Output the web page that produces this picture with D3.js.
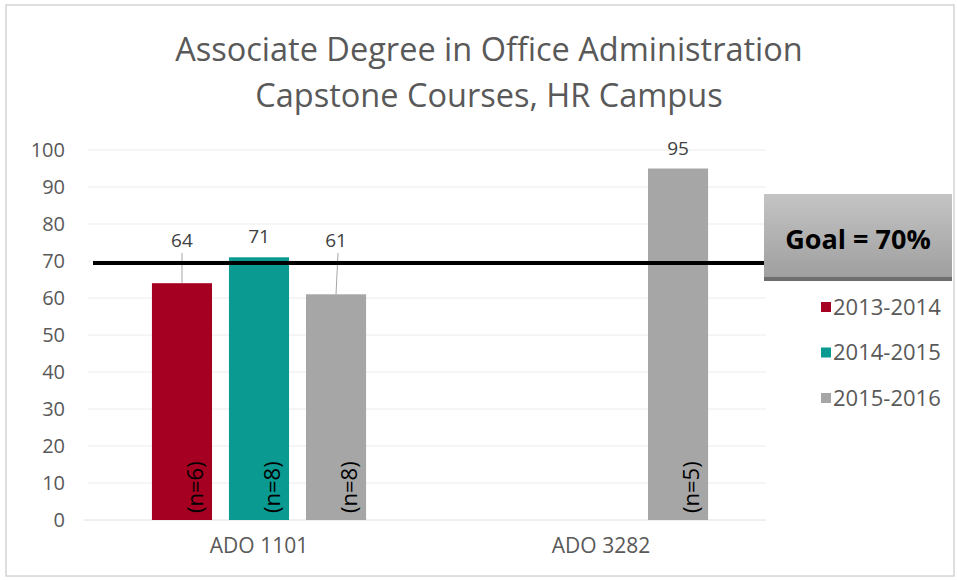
<!DOCTYPE html>
<html>
<head>
<meta charset="utf-8">
<script src="https://cdn.jsdelivr.net/npm/d3@7"></script>
<style>
  body { margin: 0; background: #fff; }
  text { font-family: "Open Sans", "DejaVu Sans", sans-serif; }
</style>
</head>
<body>
<div id="chart"></div>
<script>
// data
var courses = ["ADO 1101", "ADO 3282"];
var years = ["2013-2014", "2014-2015", "2015-2016"];
var scores = [
  [64, 71, 61],      // ADO 1101
  [null, null, 95]   // ADO 3282
];
var counts = [
  ["(n=6)", "(n=8)", "(n=8)"],
  [null, null, "(n=5)"]
];
var colors = ["#a50021", "#0b9a92", "#a6a6a6"];
var yTicks = [0, 10, 20, 30, 40, 50, 60, 70, 80, 90, 100];
var goal = 70;
var titleLines = ["Associate Degree in Office Administration", "Capstone Courses, HR Campus"];

var width = 957, height = 580;
var svg = d3.select("#chart").append("svg")
  .attr("width", width).attr("height", height);

var defs = svg.append("defs");
var grad = defs.append("linearGradient").attr("id", "goalGrad")
  .attr("x1", 0).attr("y1", 0).attr("x2", 0).attr("y2", 1);
grad.append("stop").attr("offset", "0%").attr("stop-color", "#c4c4c4");
grad.append("stop").attr("offset", "100%").attr("stop-color", "#9e9e9e");

// outer frame
svg.append("rect").attr("x", 6).attr("y", 5).attr("width", 948).attr("height", 571)
  .attr("fill", "none").attr("stroke", "#d4d4d4").attr("stroke-width", 1.5);

// title
svg.selectAll(".title").data(titleLines).enter().append("text")
  .attr("class", "title")
  .attr("x", 489).attr("y", function(d, i) { return 61 + i * 46; })
  .attr("text-anchor", "middle")
  .style("font-size", "32.5px")
  .attr("fill", "#595959")
  .text(function(d) { return d; });

var x0 = d3.scaleBand().domain(courses).range([88, 772]);
var x1 = d3.scaleBand().domain(years).range([0, x0.bandwidth()])
  .paddingInner(0.22).paddingOuter(0.83);
var y = d3.scaleLinear().domain([0, 100]).range([520, 150]);

// grid
svg.append("g").selectAll("line").data(yTicks.slice(1)).enter().append("line")
  .attr("x1", 88).attr("x2", 766)
  .attr("y1", function(d) { return y(d); }).attr("y2", function(d) { return y(d); })
  .attr("stroke", "#ececec").attr("stroke-width", 1);

svg.append("line").attr("x1", 84).attr("x2", 766)
  .attr("y1", y(0)).attr("y2", y(0))
  .attr("stroke", "#e0e0e0").attr("stroke-width", 1);

// y axis labels
var yAxis = d3.axisLeft(y).tickValues(yTicks).tickSize(0).tickPadding(0);
var gy = svg.append("g").attr("transform", "translate(65,0)").call(yAxis);
gy.select(".domain").remove();
gy.selectAll("text").style("font-size", "20px").attr("fill", "#595959")
  .style("font-family", "'Open Sans', sans-serif");

// x axis labels
var xAxis = d3.axisBottom(x0).tickSize(0).tickPadding(0);
var gx = svg.append("g").attr("transform", "translate(0,538)").call(xAxis);
gx.select(".domain").remove();
gx.selectAll("text").style("font-size", "21px").attr("fill", "#595959")
  .style("font-family", "'Open Sans', sans-serif");

// bars
var rows = [];
courses.forEach(function(c, ci) {
  years.forEach(function(yr, yi) {
    if (scores[ci][yi] != null) {
      rows.push({ course: c, year: yr, yi: yi, value: scores[ci][yi], n: counts[ci][yi] });
    }
  });
});

var bars = svg.append("g").selectAll("g").data(rows).enter().append("g")
  .attr("transform", function(d) { return "translate(" + (x0(d.course) + x1(d.year)) + ",0)"; });

bars.append("rect")
  .attr("x", 0).attr("width", x1.bandwidth())
  .attr("y", function(d) { return y(d.value); })
  .attr("height", function(d) { return y(0) - y(d.value); })
  .attr("fill", function(d) { return colors[d.yi]; });

// value labels with leader lines
bars.each(function(d) {
  var g = d3.select(this);
  var cx = x1.bandwidth() / 2;
  var base = Math.min(y(d.value) - 14, 247);
  g.append("text").attr("x", cx).attr("y", base)
    .attr("text-anchor", "middle").style("font-size", "19px")
    .attr("fill", "#404040").text(d.value);
  if (y(d.value) - base > 20) {
    g.append("line").attr("x1", cx + (d.yi == 2 ? 2 : 0)).attr("x2", cx)
      .attr("y1", base + 6).attr("y2", y(d.value))
      .attr("stroke", "#a6a6a6").attr("stroke-width", 1);
  }
  g.append("text")
    .attr("transform", "translate(" + (cx + 21) + "," + 513 + ") rotate(-90)")
    .style("font-size", "22px").attr("fill", "#000").text(d.n);
});

// goal line
svg.append("line").attr("x1", 93).attr("x2", 766)
  .attr("y1", y(goal) + 2).attr("y2", y(goal) + 2)
  .attr("stroke", "#000").attr("stroke-width", 4);

svg.append("rect").attr("x", 764).attr("y", 194).attr("width", 188).attr("height", 86)
  .attr("fill", "url(#goalGrad)");
svg.append("rect").attr("x", 764).attr("y", 277).attr("width", 188).attr("height", 4)
  .attr("fill", "#6e6e6e");
svg.append("text").attr("x", 858).attr("y", 249).attr("text-anchor", "middle")
  .style("font-size", "27px").style("font-weight", "bold").attr("fill", "#000")
  .text("Goal = " + goal + "%");

// legend
var legend = svg.append("g").attr("transform", "translate(821,307)");
var li = legend.selectAll("g").data(years).enter().append("g")
  .attr("transform", function(d, i) { return "translate(0," + i * 45.5 + ")"; });
li.append("rect").attr("x", 0).attr("y", -5).attr("width", 10).attr("height", 10)
  .attr("fill", function(d, i) { return colors[i]; });
li.append("text").attr("x", 12).attr("y", 0).attr("dy", "0.35em")
  .style("font-size", "22px").attr("fill", "#595959").text(function(d) { return d; });
</script>
</body>
</html>
